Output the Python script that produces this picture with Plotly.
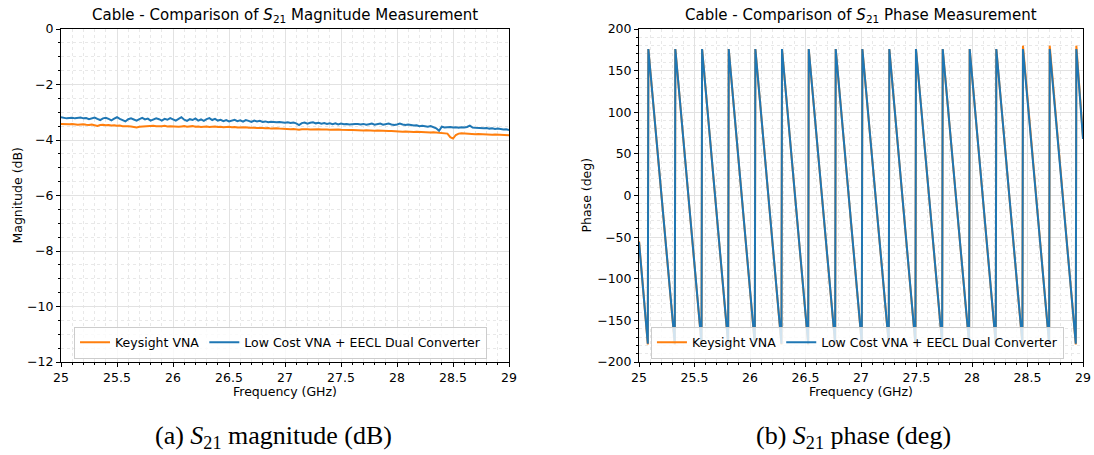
import plotly.graph_objects as go
import numpy as np

# ---------------- Data ----------------
freq_mag = np.round(np.linspace(25.0, 29.0, 161), 3)

mag_lowcost = [
    -3.18, -3.20, -3.22, -3.21, -3.20, -3.22, -3.21, -3.19, -3.22, -3.21, -3.25, -3.22, -3.19, -3.24, -3.28, -3.22, -3.20, -3.24, -3.29, -3.23,
    -3.18, -3.24, -3.28, -3.33, -3.25, -3.22, -3.26, -3.30, -3.25, -3.20, -3.26, -3.23, -3.30, -3.26, -3.22, -3.25, -3.30, -3.24, -3.27, -3.21,
    -3.26, -3.30, -3.24, -3.18, -3.27, -3.31, -3.25, -3.28, -3.22, -3.30, -3.26, -3.31, -3.25, -3.21, -3.28, -3.24, -3.30, -3.27, -3.32, -3.28,
    -3.33, -3.29, -3.27, -3.32, -3.29, -3.34, -3.28, -3.31, -3.35, -3.30, -3.33, -3.31, -3.35, -3.33, -3.36, -3.34, -3.36, -3.36, -3.35, -3.37,
    -3.38, -3.36, -3.39, -3.37, -3.40, -3.46, -3.39, -3.37, -3.41, -3.38, -3.36, -3.40, -3.38, -3.41, -3.39, -3.42, -3.40, -3.43, -3.40, -3.44,
    -3.41, -3.43, -3.42, -3.44, -3.42, -3.42, -3.42, -3.44, -3.42, -3.45, -3.43, -3.41, -3.45, -3.43, -3.41, -3.45, -3.44, -3.41, -3.44, -3.46,
    -3.44, -3.41, -3.44, -3.46, -3.44, -3.46, -3.48, -3.47, -3.50, -3.49, -3.51, -3.52, -3.50, -3.53, -3.58, -3.67, -3.52, -3.55, -3.54, -3.53,
    -3.55, -3.54, -3.56, -3.54, -3.55, -3.53, -3.48, -3.55, -3.56, -3.57, -3.56, -3.58, -3.57, -3.59, -3.58, -3.60, -3.59, -3.61, -3.62, -3.61,
    -3.64,
]

mag_keysight = [
    -3.42, -3.43, -3.44, -3.43, -3.42, -3.44, -3.45, -3.44, -3.43, -3.45, -3.46, -3.44, -3.47, -3.49, -3.46, -3.45, -3.47, -3.46, -3.48, -3.47,
    -3.49, -3.48, -3.50, -3.49, -3.50, -3.51, -3.53, -3.55, -3.52, -3.51, -3.50, -3.51, -3.50, -3.49, -3.50, -3.51, -3.50, -3.49, -3.51, -3.50,
    -3.51, -3.50, -3.52, -3.51, -3.50, -3.52, -3.51, -3.50, -3.52, -3.51, -3.53, -3.52, -3.51, -3.53, -3.52, -3.51, -3.53, -3.52, -3.54, -3.53,
    -3.52, -3.54, -3.53, -3.55, -3.54, -3.55, -3.54, -3.56, -3.55, -3.56, -3.57, -3.56, -3.57, -3.58, -3.57, -3.59, -3.58, -3.58, -3.59, -3.60,
    -3.59, -3.60, -3.61, -3.60, -3.62, -3.63, -3.61, -3.60, -3.61, -3.62, -3.61, -3.60, -3.61, -3.62, -3.61, -3.62, -3.63, -3.62, -3.63, -3.62,
    -3.63, -3.64, -3.63, -3.64, -3.64, -3.65, -3.64, -3.65, -3.66, -3.65, -3.66, -3.66, -3.67, -3.66, -3.67, -3.68, -3.67, -3.68, -3.68, -3.69,
    -3.68, -3.69, -3.70, -3.69, -3.70, -3.70, -3.71, -3.70, -3.71, -3.72, -3.71, -3.72, -3.73, -3.72, -3.73, -3.74, -3.74, -3.75, -3.77, -3.90,
    -3.95, -3.82, -3.77, -3.76, -3.77, -3.78, -3.77, -3.78, -3.79, -3.78, -3.79, -3.80, -3.79, -3.80, -3.81, -3.80, -3.81, -3.82, -3.82, -3.83,
    -3.83,
]

# Phase: wrap points (trough just before each jump, peak after)
phase_start_freq = 25.0
phase_end_freq = 29.0
trough_freq = [25.079, 25.322, 25.563, 25.803, 26.043, 26.283, 26.524, 26.767, 27.007,
               27.250, 27.490, 27.731, 27.974, 28.214, 28.454, 28.695, 28.935]
peak_freq = [25.084, 25.327, 25.568, 25.808, 26.048, 26.288, 26.529, 26.772, 27.012,
             27.255, 27.495, 27.736, 27.979, 28.219, 28.459, 28.700, 28.940]

lowcost_start, lowcost_end = -56, 68
lowcost_trough = [-178, -178, -178, -178, -178, -178, -178, -178, -178,
                  -178, -178, -178, -178, -178, -178, -178, -178]
lowcost_peak = [176, 176, 176, 176, 176, 176, 176, 176, 176,
                176, 176, 176, 176, 176, 176, 176, 176]

keysight_start, keysight_end = -55, 70
keysight_trough = [-179, -179, -179, -179, -179, -179, -179, -179, -179,
                   -179, -179, -179, -179, -179, -179, -179, -179]
keysight_peak = [176, 176, 176, 176, 176, 176, 176, 176, 176,
                 176, 176, 176, 176, 176, 180, 180, 180]

x_range = [25, 29]
mag_range = [-12, 0]
phase_range = [-200, 200]


def build_phase(start, end, troughs, peaks):
    xs, ys = [phase_start_freq], [start]
    for tf, tv, pf, pv in zip(trough_freq, troughs, peak_freq, peaks):
        xs += [tf, pf]
        ys += [tv, pv]
    xs.append(phase_end_freq)
    ys.append(end)
    return xs, ys


ORANGE = "#ff7f0e"
BLUE = "#1f77b4"
FONT = "DejaVu Sans"

fig = go.Figure()

fig.add_trace(go.Scatter(x=freq_mag, y=mag_keysight, mode="lines", name="Keysight VNA",
                         line=dict(color=ORANGE, width=2), xaxis="x", yaxis="y", legend="legend"))
fig.add_trace(go.Scatter(x=freq_mag, y=mag_lowcost, mode="lines", name="Low Cost VNA + EECL Dual Converter",
                         line=dict(color=BLUE, width=2), xaxis="x", yaxis="y", legend="legend"))

kx, ky = build_phase(keysight_start, keysight_end, keysight_trough, keysight_peak)
lx, ly = build_phase(lowcost_start, lowcost_end, lowcost_trough, lowcost_peak)
fig.add_trace(go.Scatter(x=kx, y=ky, mode="lines", name="Keysight VNA",
                         line=dict(color=ORANGE, width=2), xaxis="x2", yaxis="y2", legend="legend2"))
fig.add_trace(go.Scatter(x=lx, y=ly, mode="lines", name="Low Cost VNA + EECL Dual Converter",
                         line=dict(color=BLUE, width=2), xaxis="x2", yaxis="y2", legend="legend2"))

tickfont = dict(family=FONT, size=12.5, color="black")


def axis(domain, rng, dtick, minor_dtick, anchor):
    return dict(
        domain=domain, range=rng, dtick=dtick, anchor=anchor,
        showline=True, linecolor="black", linewidth=1, mirror=True,
        ticks="outside", ticklen=4, tickwidth=1, tickcolor="black",
        showgrid=True, gridcolor="#e2e2e2", gridwidth=1, zeroline=False,
        tickfont=tickfont, automargin=False,
        minor=dict(dtick=minor_dtick, ticks="outside", ticklen=2, tickcolor="black",
                   showgrid=True, gridcolor="#e8e8e8", griddash="dot", gridwidth=1),
    )


legend_common = dict(orientation="h", bgcolor="rgba(255,255,255,0.8)", bordercolor="#cccccc",
                     borderwidth=1, font=dict(family=FONT, size=12.5, color="black"),
                     xanchor="center", yanchor="bottom", xref="paper", yref="paper")

fig.update_layout(
    width=1094, height=455,
    margin=dict(l=61, r=11, t=29, b=93),
    template="none",
    paper_bgcolor="white", plot_bgcolor="white",
    font=dict(family=FONT, size=12.5, color="black"),
    xaxis=axis([0, 0.4384], x_range, 0.5, 0.1, "y"),
    yaxis=axis([0, 1], mag_range, 2, 0.5, "x"),
    xaxis2=axis([0.5656, 1], x_range, 0.5, 0.1, "y2"),
    yaxis2=axis([0, 1], phase_range, 50, 10, "x2"),
    legend=dict(x=0.2148, y=0.010, **legend_common),
    legend2=dict(x=0.7793, y=0.010, **legend_common),
)

ann = []
ann.append(dict(text="Cable - Comparison of <i>S</i><sub>21</sub> Magnitude Measurement",
                x=0.2192, y=1.042, font=dict(family=FONT, size=15)))
ann.append(dict(text="Cable - Comparison of <i>S</i><sub>21</sub> Phase Measurement",
                x=0.7828, y=1.042, font=dict(family=FONT, size=15)))
ann.append(dict(text="Frequency (GHz)", x=0.2192, y=-0.090, font=dict(family=FONT, size=12.5)))
ann.append(dict(text="Frequency (GHz)", x=0.7828, y=-0.090, font=dict(family=FONT, size=12.5)))
ann.append(dict(text="Magnitude (dB)", x=-0.0430, y=0.5, textangle=-90, font=dict(family=FONT, size=12.5)))
ann.append(dict(text="Phase (deg)", x=0.5137, y=0.5, textangle=-90, font=dict(family=FONT, size=12.5)))
ann.append(dict(text="(a) <i>S</i><sub>21</sub> magnitude (dB)", x=0.2084, y=-0.2252,
                font=dict(family="Liberation Serif", size=26)))
ann.append(dict(text="(b) <i>S</i><sub>21</sub> phase (deg)", x=0.7759, y=-0.2252,
                font=dict(family="Liberation Serif", size=26)))
for a in ann:
    a.update(xref="paper", yref="paper", showarrow=False, xanchor="center", yanchor="middle")
    a["font"]["color"] = "black"
fig.update_layout(annotations=ann)

fig.write_html("out.html", config={"displayModeBar": False},
               post_script="document.body.style.margin='0';document.body.style.overflow='hidden';")
